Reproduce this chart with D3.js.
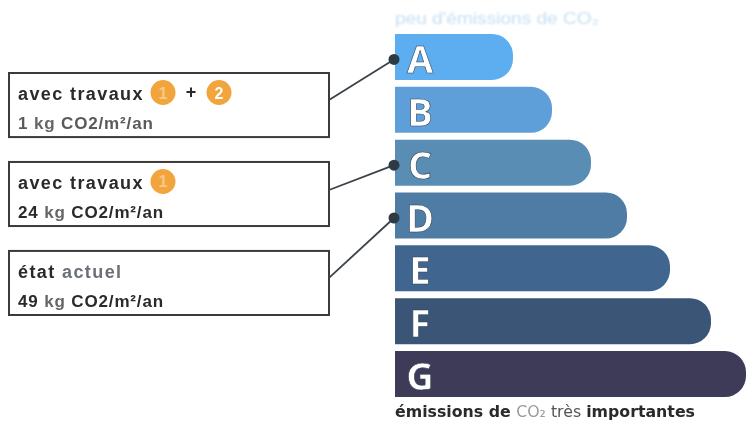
<!DOCTYPE html>
<html>
<head>
<meta charset="utf-8">
<script src="https://cdn.jsdelivr.net/npm/d3@7"></script>
<style>
html, body { margin: 0; padding: 0; background: #fff; }
svg { display: block; }
text { font-family: "Liberation Sans", Arial, sans-serif; }
</style>
</head>
<body>
<div id="chart"></div>
<script>
var width = 746;
var height = 423;

// energy classes, bar length
var classes = ["A", "B", "C", "D", "E", "F", "G"];
var barLengths = [118, 157, 196, 232, 275, 316, 351];
var barColors = ["#5caef0", "#5f9fd9", "#5a8db3", "#4f7ca5", "#3f6690", "#3a5476", "#3e3b58"];

// the three callouts
var boxClasses = ["A", "C", "D"];
var boxTitleDark = ["avec travaux", "avec travaux", "état"];
var boxTitleGrey = ["", "", " actuel"];
var boxAmounts = ["1", "24", "49"];
var boxUnits = ["kg", "kg", "kg"];
var boxRest = ["CO2/m²/an", "CO2/m²/an", "CO2/m²/an"];
var boxBadges = [["1", "2"], ["1"], []];

var xScale = d3.scaleLinear().domain([0, 351]).range([395, 746]);
var yScale = d3.scaleBand().domain(classes).range([34, 397]).paddingInner(0.13);
var boxScale = d3.scaleBand().domain(d3.range(boxClasses.length)).range([73, 315]).paddingInner(0.28);

var svg = d3.select("#chart")
    .append("svg")
    .attr("width", width)
    .attr("height", height);

// the reference is a scan, so everything is a little soft
var defs = svg.append("defs");
defs.append("filter").attr("id", "soft")
    .append("feGaussianBlur").attr("stdDeviation", 0.55);
defs.append("filter").attr("id", "softer")
    .attr("x", "-5%").attr("width", "110%")
    .append("feGaussianBlur").attr("stdDeviation", 1);

var chartG = svg.append("g").attr("filter", "url(#soft)");

function barPath(d, i) {
    var x0 = xScale(0);
    var x1 = xScale(barLengths[i]);
    var y0 = yScale(d);
    var h = yScale.bandwidth();
    var r = 21;
    return "M" + x0 + "," + y0 + "H" + (x1 - r)
        + "A" + r + "," + r + " 0 0 1 " + x1 + "," + (y0 + r)
        + "V" + (y0 + h - r)
        + "A" + r + "," + r + " 0 0 1 " + (x1 - r) + "," + (y0 + h)
        + "H" + x0 + "Z";
}

chartG.selectAll("path.bar")
    .data(classes)
    .enter()
    .append("path")
    .attr("class", "bar")
    .attr("d", barPath)
    .attr("fill", function(d, i) { return barColors[i]; });

chartG.selectAll("text.letter")
    .data(classes)
    .enter()
    .append("text")
    .attr("class", "letter")
    .attr("x", xScale(0) + 25)
    .attr("y", function(d) { return yScale(d) + yScale.bandwidth() / 2 + 16; })
    .attr("text-anchor", "middle")
    .attr("font-size", 38)
    .attr("font-weight", "bold")
    .attr("fill", "#fff")
    .attr("stroke", "#2f4258")
    .attr("stroke-width", 0.6)
    .style("font-family", "'Open Sans', sans-serif")
    .text(function(d) { return d; });

// callout boxes
var boxG = chartG.selectAll("g.box")
    .data(boxClasses)
    .enter()
    .append("g")
    .attr("class", "box")
    .attr("transform", function(d, i) { return "translate(9," + boxScale(i) + ")"; });

boxG.append("rect")
    .attr("width", 320)
    .attr("height", boxScale.bandwidth())
    .attr("fill", "#fff")
    .attr("stroke", "#3b3b3b")
    .attr("stroke-width", 2);

var titleText = boxG.append("text")
    .attr("x", 9)
    .attr("y", 27)
    .attr("font-size", 18)
    .attr("font-weight", "bold")
    .attr("fill", "#2b2b2b")
    .attr("letter-spacing", 1.4);
titleText.append("tspan").text(function(d, i) { return boxTitleDark[i]; });
titleText.append("tspan").attr("fill", "#6b6f75").text(function(d, i) { return boxTitleGrey[i]; });

var valueText = boxG.append("text")
    .attr("x", 9)
    .attr("y", 56)
    .attr("font-size", 17)
    .attr("font-weight", "bold")
    .attr("fill", function(d, i) { return i == 0 ? "#5a5a5a" : "#2b2b2b"; })
    .attr("letter-spacing", 0.85);
valueText.append("tspan").text(function(d, i) { return boxAmounts[i] + " "; });
valueText.append("tspan").attr("fill", "#666").text(function(d, i) { return boxUnits[i] + " "; });
valueText.append("tspan").text(function(d, i) { return boxRest[i]; });

// numbered orange badges
boxG.each(function(d, i) {
    var g = d3.select(this);
    boxBadges[i].forEach(function(b, j) {
        var cx = 154 + j * 56;
        g.append("circle")
            .attr("cx", cx)
            .attr("cy", 19.5)
            .attr("r", 12.5)
            .attr("fill", "#f2a53c");
        g.append("text")
            .attr("x", cx)
            .attr("y", 25.5)
            .attr("text-anchor", "middle")
            .attr("font-size", 16)
            .attr("font-weight", "bold")
            .attr("fill", b == "1" ? "#f8c98a" : "#fff")
            .text(b);
        if (j == 1) {
            g.append("text")
                .attr("x", cx - 28)
                .attr("y", 25)
                .attr("text-anchor", "middle")
                .attr("font-size", 18)
                .attr("font-weight", "bold")
                .attr("fill", "#2b2b2b")
                .text("+");
        }
    });
});

// leaders from box to class bar
var leaderStart = [27, 28, 27];
chartG.selectAll("line.leader")
    .data(boxClasses)
    .enter()
    .append("line")
    .attr("class", "leader")
    .attr("x1", 329)
    .attr("y1", function(d, i) { return boxScale(i) + leaderStart[i]; })
    .attr("x2", xScale(0) - 1)
    .attr("y2", function(d) { return yScale(d) + yScale.bandwidth() / 2 + 2.5; })
    .attr("stroke", "#3b4248")
    .attr("stroke-width", 1.8);

chartG.selectAll("circle.dot")
    .data(boxClasses)
    .enter()
    .append("circle")
    .attr("class", "dot")
    .attr("cx", xScale(0) - 1)
    .attr("cy", function(d) { return yScale(d) + yScale.bandwidth() / 2 + 2.5; })
    .attr("r", 5.5)
    .attr("fill", "#2f3b45");

// captions
svg.append("text")
    .attr("x", 395)
    .attr("y", 24)
    .attr("font-size", 16)
    .attr("fill", "#c4dff3")
    .attr("filter", "url(#softer)")
    .attr("textLength", 204)
    .attr("lengthAdjust", "spacingAndGlyphs")
    .text("peu d'émissions de CO₂");

var caption = chartG.append("text")
    .attr("x", 395)
    .attr("y", 417)
    .attr("font-size", 15)
    .attr("font-weight", "bold")
    .attr("fill", "#2a2a2a")
    .style("font-family", "'DejaVu Sans', sans-serif")
    .attr("textLength", 300)
    .attr("lengthAdjust", "spacingAndGlyphs");
caption.append("tspan").text("émissions de ");
caption.append("tspan").attr("fill", "#9a9a9a").attr("font-weight", "normal").text("CO₂");
caption.append("tspan").attr("fill", "#555").attr("font-weight", "normal").text(" très ");
caption.append("tspan").text("importantes");
</script>
</body>
</html>
